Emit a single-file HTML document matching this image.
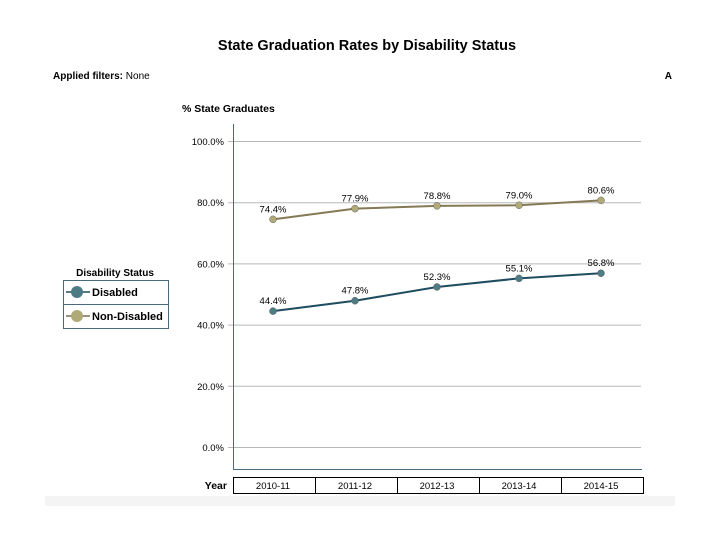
<!DOCTYPE html>
<html><head><meta charset="utf-8"><style>
body{margin:0;background:#fff;font-family:"Liberation Sans",sans-serif}
svg{display:block}
</style></head><body>
<svg id="c" width="720" height="540" xmlns="http://www.w3.org/2000/svg">
<rect x="45" y="496" width="630" height="10" fill="#f4f4f4"/>
<text x="367" y="50" text-anchor="middle" font-size="14.5" font-weight="bold" fill="#000">State Graduation Rates by Disability Status</text>
<text x="53" y="79" font-size="10" fill="#000"><tspan font-weight="bold">Applied filters:</tspan> None</text>
<text x="672" y="79" font-size="10" font-weight="bold" text-anchor="end">A</text>
<text x="182" y="112" font-size="10.5" font-weight="bold">% State Graduates</text>
<g id="grid"></g>
<line x1="233.5" y1="124" x2="233.5" y2="470" stroke="#4a6a80" stroke-width="1"/>
<line x1="233" y1="469.5" x2="642" y2="469.5" stroke="#4a6a80" stroke-width="1"/>
<g id="series"></g>
<text x="227" y="489" font-size="10.5" font-weight="bold" text-anchor="end">Year</text>
<g id="xcats"></g>
<text x="115" y="276" font-size="10" font-weight="bold" text-anchor="middle">Disability Status</text>
<g>
<rect x="63.5" y="280.5" width="105" height="48" fill="#fff" stroke="#4a6a80"/>
<line x1="63.5" y1="304.5" x2="168.5" y2="304.5" stroke="#4a6a80"/>
<g>
<line x1="66" y1="292" x2="90" y2="292" stroke="#1e4d5e" stroke-width="1.5"/>
<circle cx="77" cy="292" r="6" fill="#4d7c85"/>
<text x="92" y="296" font-size="11" font-weight="bold">Disabled</text></g>
<g>
<line x1="66" y1="316" x2="90" y2="316" stroke="#7a7050" stroke-width="1.5"/>
<circle cx="77" cy="316" r="6" fill="#b0aa78"/>
<text x="92" y="320" font-size="11" font-weight="bold">Non-Disabled</text></g>
</g>
</svg>
<script>
const categories=["2010-11","2011-12","2012-13","2013-14","2014-15"];
const disabled=[44.4,47.8,52.3,55.1,56.8];
const nonDisabled=[74.4,77.9,78.8,79.0,80.6];
const yTicks=[0,20,40,60,80,100];
const NS="http://www.w3.org/2000/svg";
const y=v=>447-v*3.06;
const x=i=>273+i*82;
function mk(t,a,p){const e=document.createElementNS(NS,t);for(const k in a)e.setAttribute(k,a[k]);p.appendChild(e);return e;}
const grid=document.getElementById('grid');
yTicks.forEach(v=>{
 const l=mk('line',{x1:228,x2:641,y1:y(v)+0.5,y2:y(v)+0.5,stroke:'#b8b8b8'},grid);
 
 
 const t=mk('text',{x:224,y:y(v)+4,'font-size':9.5,'text-anchor':'end'},grid);
 t.textContent=v.toFixed(1)+'%';
 
 
});
const xg=document.getElementById('xcats');
categories.forEach((c,i)=>{
 const r=mk('rect',{x:233.5+i*82,y:477.5,width:82,height:16,fill:'#fff',stroke:'#000'},xg);
 
 
 const t=mk('text',{x:x(i),y:489,'font-size':9.5,'text-anchor':'middle'},xg);
 t.textContent=c;
 
 
});
const sg=document.getElementById('series');
[[disabled,'#1e4d5e','#4d7c85','disabled'],[nonDisabled,'#857a55','#b0aa78','non-disabled']].forEach(([d,lc,fc,n])=>{
 const p=mk('polyline',{points:d.map((v,i)=>x(i)+','+y(v)).join(' '),fill:'none',stroke:lc,'stroke-width':2},sg);
 
 
 d.forEach((v,i)=>{
  const c=mk('circle',{cx:x(i),cy:y(v),r:3.5,fill:fc,stroke:'#666','stroke-width':0.5},sg);
  
  
  const t=mk('text',{x:x(i),y:y(v)-7,'font-size':9.5,'text-anchor':'middle'},sg);
  t.textContent=v.toFixed(1)+'%';
  
  
 });
});
</script>
</body></html>
